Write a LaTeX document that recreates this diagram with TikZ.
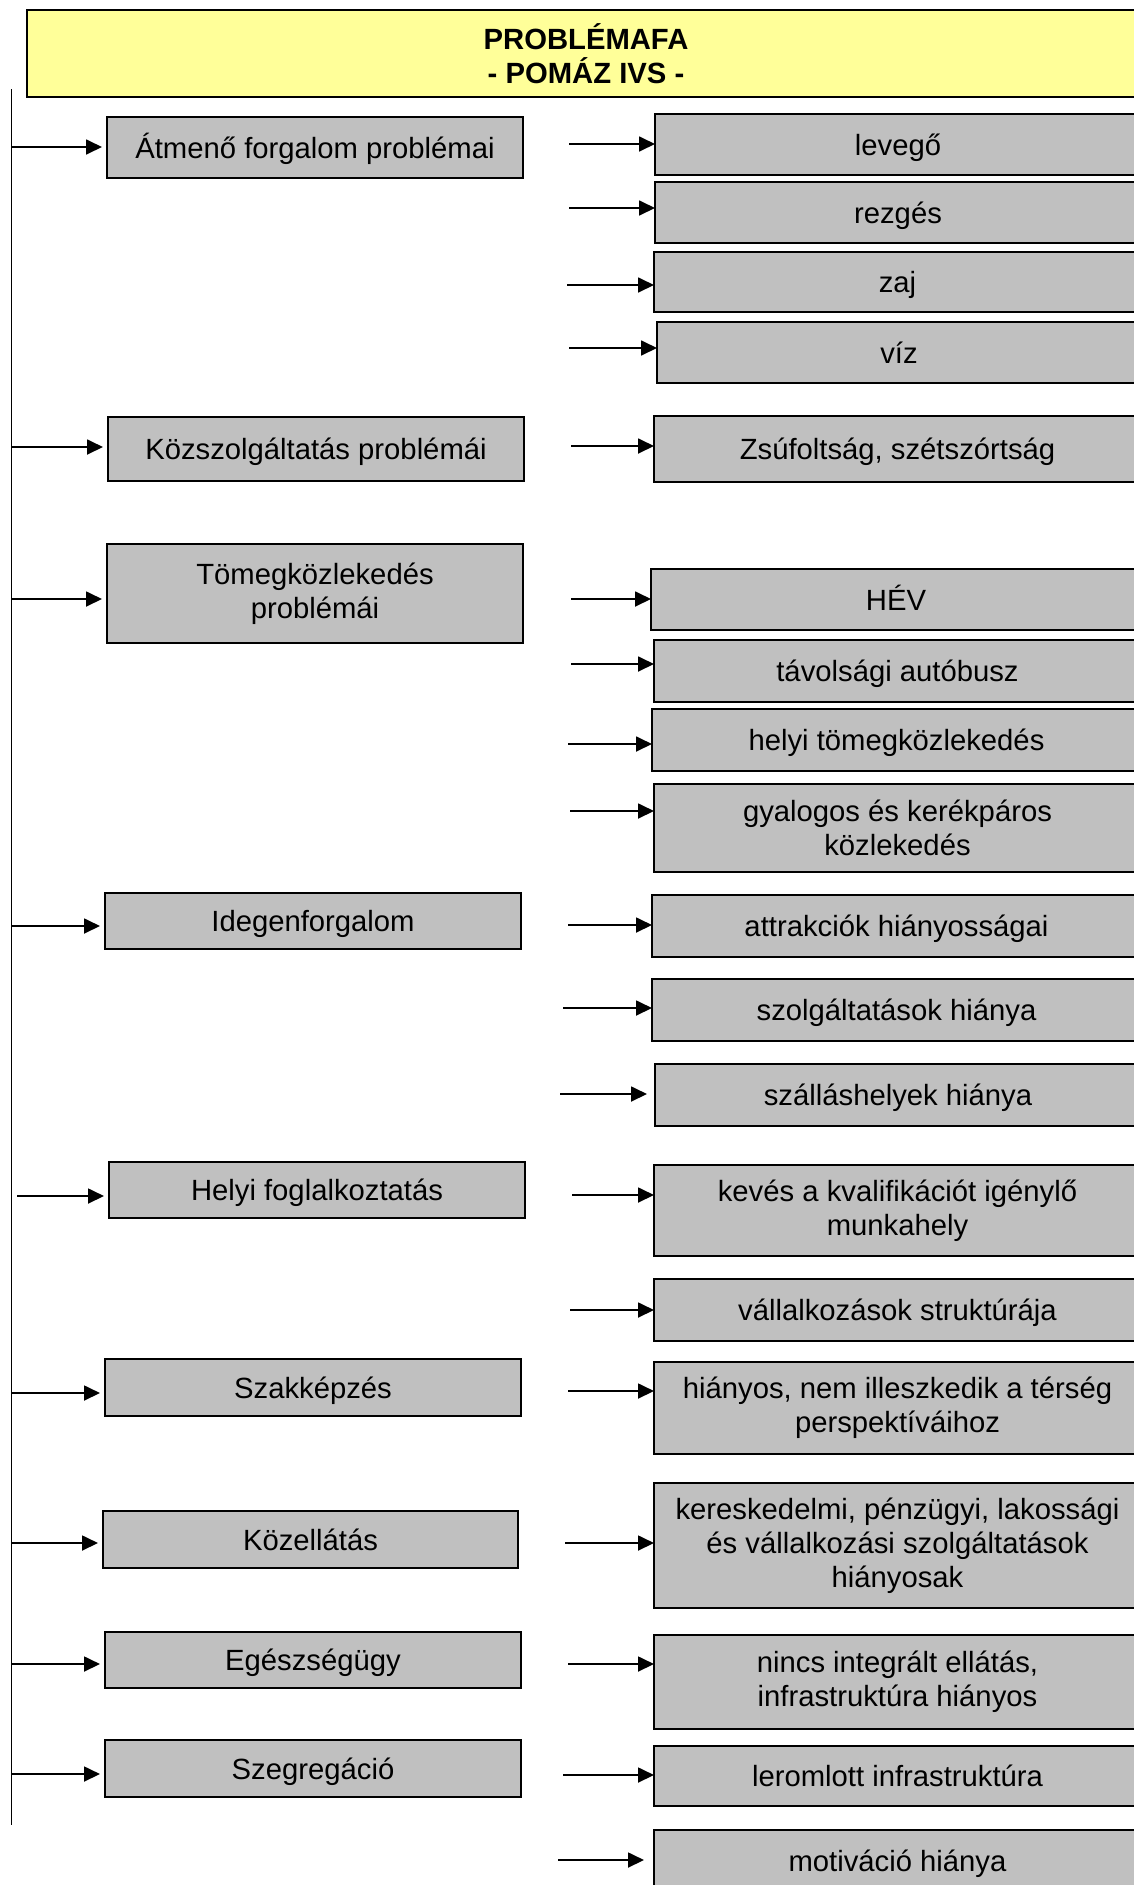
\documentclass[tikz,border=0pt]{standalone}
\usepackage{fontspec}
\setmainfont{Liberation Sans}
\usetikzlibrary{arrows.meta}
\definecolor{boxgray}{HTML}{C0C0C0}
\definecolor{titleyellow}{HTML}{FFFF99}
\tikzset{
  gbox/.style={draw=black, line width=2pt, fill=boxgray, inner sep=0pt, outer sep=0pt,
    align=center, font=\fontsize{29.25pt}{34pt}\selectfont},
  oneline/.style={gbox, text height=21pt, text depth=0pt},
  tbox/.style={draw=black, line width=2.5pt, fill=titleyellow, inner sep=0pt, outer sep=0pt,
    align=center, font=\fontsize{29.25pt}{34pt}\selectfont\bfseries},
  arr/.style={line width=1.8pt, -{Triangle[length=16pt,width=15pt]}},
  trunk/.style={line width=1.8pt},
}
\begin{document}
\begin{tikzpicture}[x=1pt,y=-1pt]
\useasboundingbox (0,0) rectangle (1134,1885);
\fill[white] (0,0) rectangle (1134,1885);
\clip (0,0) rectangle (1134,1885);

% title
\node[tbox, minimum width=1118pt, minimum height=87pt] (title) at (586,53.5) {PROBLÉMAFA\\- POMÁZ IVS -};

% trunk
\coordinate (ttop) at (11.5,89);
\coordinate (tbot) at (11.5,1825);
\draw[trunk] (ttop) -- (tbot);

% left boxes
\node[oneline, minimum width=416pt, minimum height=61pt] (l1) at (315,147.5) {Átmenő forgalom problémai};
\node[oneline, minimum width=416pt, minimum height=64pt] (l2) at (316,449) {Közszolgáltatás problémái};
\node[gbox, minimum width=416pt, minimum height=99pt] (l3) at (315,593.5) {Tömegközlekedés\\problémái};
\node[oneline, minimum width=416pt, minimum height=56pt] (l4) at (313,921) {Idegenforgalom};
\node[oneline, minimum width=416pt, minimum height=56pt] (l5) at (317,1190) {Helyi foglalkoztatás};
\node[oneline, minimum width=416pt, minimum height=57pt] (l6) at (313,1387.5) {Szakképzés};
\node[oneline, minimum width=415pt, minimum height=57pt] (l7) at (310.5,1539.5) {Közellátás};
\node[oneline, minimum width=416pt, minimum height=56pt] (l8) at (313,1660) {Egészségügy};
\node[oneline, minimum width=416pt, minimum height=57pt] (l9) at (313,1768.5) {Szegregáció};

% right boxes
\node[oneline, minimum width=486pt, minimum height=61pt] (r1) at (898,144.5) {levegő};
\node[oneline, minimum width=486pt, minimum height=61pt] (r2) at (898,212.5) {rezgés};
\node[oneline, minimum width=487pt, minimum height=60pt] (r3) at (897.5,282) {zaj};
\node[oneline, minimum width=484pt, minimum height=61pt] (r4) at (899,352.5) {víz};
\node[oneline, minimum width=487pt, minimum height=66pt] (r5) at (897.5,449) {Zsúfoltság, szétszórtság};
\node[oneline, minimum width=490pt, minimum height=61pt] (r6) at (896,599.5) {HÉV};
\node[oneline, minimum width=487pt, minimum height=62pt] (r7) at (897.5,671) {távolsági autóbusz};
\node[oneline, minimum width=489pt, minimum height=62pt] (r8) at (896.5,740) {helyi tömegközlekedés};
\node[gbox, minimum width=487pt, minimum height=88pt] (r9) at (897.5,828) {gyalogos és kerékpáros\\közlekedés};
\node[oneline, minimum width=489pt, minimum height=62pt] (r10) at (896.5,926) {attrakciók hiányosságai};
\node[oneline, minimum width=489pt, minimum height=62pt] (r11) at (896.5,1010) {szolgáltatások hiánya};
\node[oneline, minimum width=486pt, minimum height=62pt] (r12) at (898,1095) {szálláshelyek hiánya};
\node[gbox, minimum width=487pt, minimum height=91pt] (r13) at (897.5,1210.5) {kevés a kvalifikációt igénylő\\munkahely};
\node[oneline, minimum width=487pt, minimum height=62pt] (r14) at (897.5,1310) {vállalkozások struktúrája};
\node[gbox, minimum width=487pt, minimum height=92pt] (r15) at (897.5,1408) {hiányos, nem illeszkedik a térség\\perspektíváihoz};
\node[gbox, minimum width=487pt, minimum height=125pt] (r16) at (897.5,1545.5) {kereskedelmi, pénzügyi, lakossági\\és vállalkozási szolgáltatások\\hiányosak};
\node[gbox, minimum width=487pt, minimum height=94pt] (r17) at (897.5,1682) {nincs integrált ellátás,\\infrastruktúra hiányos};
\node[oneline, minimum width=487pt, minimum height=60pt] (r18) at (897.5,1776) {leromlott infrastruktúra};
\node[oneline, minimum width=487pt, minimum height=62pt] (r19) at (897.5,1861) {motiváció hiánya};

% left arrows
\coordinate (s1) at (11.5,147);
\coordinate (s2) at (11.5,447);
\coordinate (s3) at (11.5,599);
\coordinate (s4) at (11.5,926);
\coordinate (s5) at (17,1196);
\coordinate (s6) at (11.5,1393);
\coordinate (s7) at (11.5,1543);
\coordinate (s8) at (11.5,1664);
\coordinate (s9) at (11.5,1774);
\foreach \i in {1,...,9}{
  \draw[arr, shorten >=5pt] (s\i) -- (s\i -| l\i.west);
}

% right arrows
\coordinate (t1) at (569,144);
\coordinate (t2) at (569,208);
\coordinate (t3) at (567,285);
\coordinate (t4) at (569,348);
\coordinate (t5) at (571,446);
\coordinate (t6) at (571,599);
\coordinate (t7) at (571,664);
\coordinate (t8) at (568,744);
\coordinate (t9) at (570,811);
\coordinate (t10) at (568,925);
\coordinate (t11) at (563,1008);
\coordinate (t12) at (560,1094);
\coordinate (t13) at (572,1195);
\coordinate (t14) at (570,1310);
\coordinate (t15) at (568,1391);
\coordinate (t16) at (565,1543);
\coordinate (t17) at (568,1664);
\coordinate (t18) at (563,1775);
\coordinate (t19) at (558,1860);
\foreach \i in {1,...,11,13,14,15,16,17,18}{
  \draw[arr] (t\i) -- (t\i -| r\i.west);
}
\draw[arr, shorten >=8pt] (t12) -- (t12 -| r12.west);
\draw[arr, shorten >=10pt] (t19) -- (t19 -| r19.west);
\end{tikzpicture}
\end{document}
